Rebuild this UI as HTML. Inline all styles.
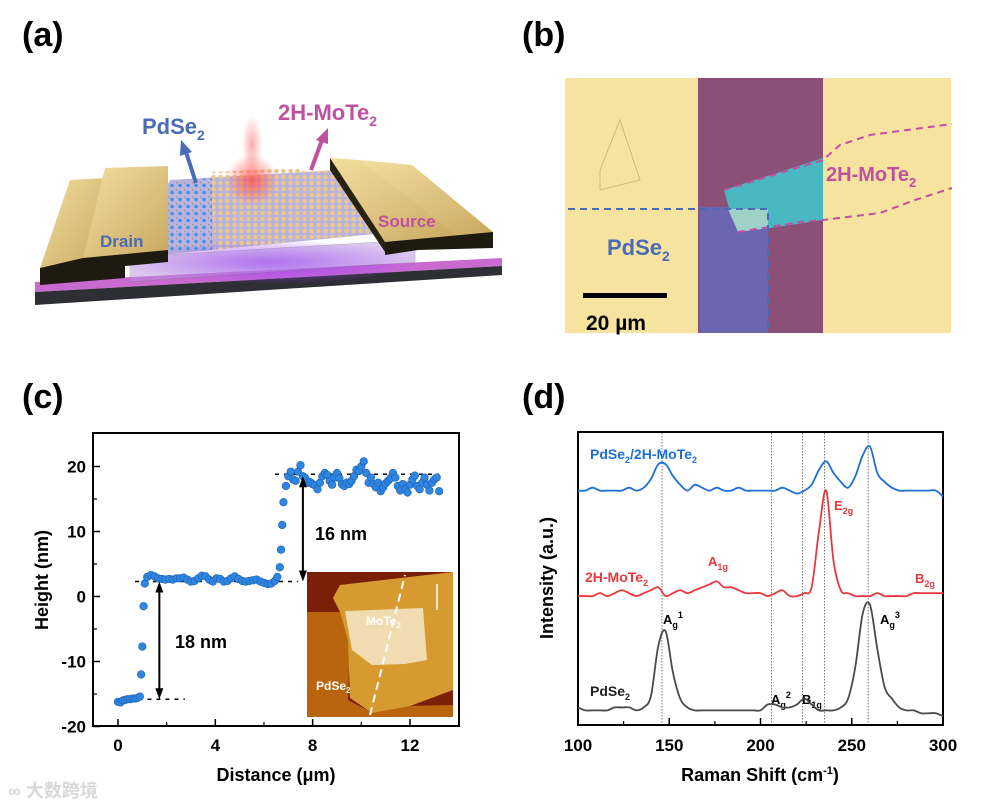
<!DOCTYPE html>
<html><head><meta charset="utf-8"><style>
body{margin:0;background:#fff;width:989px;height:805px;overflow:hidden;font-family:"Liberation Sans","Noto Sans CJK SC",sans-serif}
svg{position:absolute;left:0;top:0}
text{font-family:"Liberation Sans","Noto Sans CJK SC",sans-serif;font-weight:bold}
</style></head><body>
<svg id="fig" width="989" height="805" viewBox="0 0 989 805">
<defs>
<radialGradient id="redglow" cx="0.5" cy="0.5" r="0.5"><stop offset="0" stop-color="#ff5050" stop-opacity="0.8"/><stop offset="1" stop-color="#ff5050" stop-opacity="0"/></radialGradient>
<radialGradient id="purpglow" cx="0.5" cy="0.5" r="0.5"><stop offset="0" stop-color="#a040ff" stop-opacity="0.9"/><stop offset="1" stop-color="#a040ff" stop-opacity="0"/></radialGradient>
<linearGradient id="gold" x1="0" y1="0" x2="1" y2="1"><stop offset="0" stop-color="#f3dfa0"/><stop offset="1" stop-color="#c9a860"/></linearGradient>
<pattern id="atoms" width="7" height="6" patternUnits="userSpaceOnUse"><circle cx="3.5" cy="3" r="2.3" fill="#e9c98e"/></pattern>
<pattern id="atomsB" width="8" height="7" patternUnits="userSpaceOnUse"><circle cx="4" cy="3.5" r="1.8" fill="#4a90e0"/><circle cx="0" cy="0" r="1.6" fill="#999"/></pattern>
</defs>

<text x="22" y="46" font-size="34">(a)</text>
<text x="522" y="46" font-size="34">(b)</text>
<text x="22" y="408" font-size="34">(c)</text>
<text x="522" y="408" font-size="34">(d)</text>

<g>
<polygon points="35,282 502,258 502,266 35,292" fill="#c86ad0"/>
<polygon points="35,292 502,266 502,275 35,305" fill="#2e2e35"/>
<ellipse cx="270" cy="262" rx="150" ry="22" fill="url(#purpglow)"/>
<polygon points="170,180 340,170 395,232 130,258" fill="#8a80c8" opacity="0.6"/>
<polygon points="170,182 212,178 212,250 160,252" fill="url(#atomsB)"/>
<polygon points="210,172 300,168 380,232 215,250" fill="url(#atoms)"/>
<polygon points="300,172 335,170 385,232 330,238" fill="url(#atoms)"/>
<ellipse cx="252" cy="180" rx="26" ry="26" fill="url(#redglow)"/>
<rect x="242" y="115" width="20" height="60" fill="url(#redglow)" opacity="0.6"/>
<polygon points="130,257 415,240 415,262 130,282" fill="#b890e0" opacity="0.5" stroke="#777" stroke-width="0.6"/>
<polygon points="70,180 105,178 105,258 40,268" fill="url(#gold)"/>
<polygon points="105,168 168,166 168,250 83,258" fill="url(#gold)"/>
<polygon points="40,268 83,258 168,250 168,262 125,266 125,278 40,285" fill="#1e1a10"/>
<polygon points="360,160 412,165 493,232 455,238" fill="url(#gold)"/>
<polygon points="330,158 360,160 460,238 385,242" fill="url(#gold)"/>
<polygon points="330,158 385,242 385,252 330,170" fill="#2a2210"/>
<polygon points="385,242 493,232 493,248 418,250 385,255" fill="#1e1a10"/>
<text x="100" y="247" font-size="17" fill="#4a6bb5">Drain</text>
<text x="378" y="227" font-size="17" fill="#c050a0">Source</text>
<line x1="196" y1="183" x2="186" y2="152" stroke="#4a6bb5" stroke-width="4"/>
<polygon points="181,140 192,152 180,156" fill="#4a6bb5"/>
<line x1="311" y1="170" x2="322" y2="140" stroke="#c050a0" stroke-width="4"/>
<polygon points="328,128 328,144 316,140" fill="#c050a0"/>
<text x="142" y="134" font-size="22" fill="#4a6bb5">PdSe<tspan font-size="14" dy="6">2</tspan></text>
<text x="278" y="120" font-size="22" fill="#c050a0">2H-MoTe<tspan font-size="14" dy="6">2</tspan></text>
</g>

<g>
<rect x="565" y="78" width="386" height="255" fill="#f6e3a0"/>
<rect x="698" y="78" width="125" height="255" fill="#8a5078"/>
<rect x="700" y="207" width="68" height="126" fill="#6c66b0"/>
<polygon points="724,190 823,158 823,220 770,228 738,232 730,212" fill="#4ab8c2"/>
<polygon points="728,209 768,209 768,228 738,232" fill="#9ed2c8"/>
<polygon points="600,170 620,120 640,180 600,190" fill="none" stroke="#c8b880" stroke-width="1"/>
<polyline points="724,190 823,160 840,145 870,135 952,124" fill="none" stroke="#c050a0" stroke-width="2" stroke-dasharray="7,5"/>
<polyline points="738,232 800,222 823,220 880,213 915,200 952,188" fill="none" stroke="#c050a0" stroke-width="2" stroke-dasharray="7,5"/>
<polyline points="568,209 768,209 768,333" fill="none" stroke="#4a6bb5" stroke-width="2" stroke-dasharray="7,5"/>
<text x="826" y="181" font-size="20" fill="#c050a0">2H-MoTe<tspan font-size="13" dy="6">2</tspan></text>
<text x="607" y="255" font-size="22" fill="#4a6bb5">PdSe<tspan font-size="14" dy="6">2</tspan></text>
<rect x="583" y="293" width="84" height="5" fill="#000"/>
<text x="586" y="330" font-size="21">20 µm</text>
</g>

<g id="pc">
<rect x="93" y="433" width="366" height="293" fill="none" stroke="#000" stroke-width="2"/>
<g id="inset">
<rect x="307" y="572" width="146" height="145" fill="#7a1f08"/>
<polygon points="307,612 340,612 350,640 348,700 371,712 405,706 453,705 453,717 307,717" fill="#b8650e"/>
<polygon points="333,598 340,585 453,572 453,690 410,706 372,713 350,698 348,640 340,612" fill="#d69a30"/>
<polygon points="345,611 423,608 427,660 405,664 372,665 352,650" fill="#f0dcb0"/>
<line x1="370" y1="715" x2="405" y2="575" stroke="#fff" stroke-width="2" stroke-dasharray="8,5"/>
<line x1="437" y1="584" x2="437" y2="610" stroke="#fff" stroke-width="1.5"/>
<text x="366" y="625" font-size="12" fill="#fff" font-family="Liberation Serif">MoTe<tspan font-size="8" dy="3">2</tspan></text>
<text x="316" y="690" font-size="12" fill="#fff" font-family="Liberation Serif">PdSe<tspan font-size="8" dy="3">2</tspan></text>
</g>
<text transform="translate(48,580) rotate(-90)" text-anchor="middle" font-size="18">Height (nm)</text>
<text x="276" y="781" text-anchor="middle" font-size="18">Distance (μm)</text>
<text x="175" y="648" font-size="18">18 nm</text>
<text x="315" y="540" font-size="18">16 nm</text>
</g>

<g id="pd">
<rect x="578" y="432" width="365" height="293" fill="none" stroke="#000" stroke-width="2"/>
<text transform="translate(553,578) rotate(-90)" text-anchor="middle" font-size="18">Intensity (a.u.)</text>
<text x="760" y="781" text-anchor="middle" font-size="18">Raman Shift (cm<tspan font-size="11" dy="-7">-1</tspan><tspan dy="7">)</tspan></text>
<text x="590" y="459" font-size="14" fill="#1e6fd9">PdSe<tspan font-size="9" dy="4">2</tspan><tspan dy="-4">/2H-MoTe</tspan><tspan font-size="9" dy="4">2</tspan></text>
<text x="585" y="582" font-size="14" fill="#e8383d">2H-MoTe<tspan font-size="9" dy="4">2</tspan></text>
<text x="708" y="566" font-size="13" fill="#e8383d">A<tspan font-size="9" dy="4">1g</tspan></text>
<text x="834" y="510" font-size="13" fill="#e8383d">E<tspan font-size="9" dy="4">2g</tspan></text>
<text x="915" y="583" font-size="13" fill="#e8383d">B<tspan font-size="9" dy="4">2g</tspan></text>
<text x="590" y="696" font-size="14" fill="#222">PdSe<tspan font-size="9" dy="4">2</tspan></text>
<text x="663" y="624" font-size="13">A<tspan font-size="9" dy="4">g</tspan><tspan font-size="9" dy="-10">1</tspan></text>
<text x="771" y="704" font-size="13">A<tspan font-size="9" dy="4">g</tspan><tspan font-size="9" dy="-10">2</tspan></text>
<text x="802" y="704" font-size="13">B<tspan font-size="9" dy="4">1g</tspan></text>
<text x="880" y="624" font-size="13">A<tspan font-size="9" dy="4">g</tspan><tspan font-size="9" dy="-10">3</tspan></text>
</g>
<text x="8" y="797" font-size="18" fill="#d8d8d8">∞ 大数跨境</text>
</svg>
<script>
const distance=[0,0.1,0.2,0.3,0.4,0.5,0.6,0.7,0.8,0.9,0.95,1.0,1.05,1.1,1.2,1.35,1.5,1.65,1.8,1.95,2.1,2.25,2.4,2.55,2.7,2.85,3.0,3.15,3.3,3.45,3.6,3.75,3.9,4.05,4.2,4.35,4.5,4.65,4.8,4.95,5.1,5.25,5.4,5.55,5.7,5.85,6.0,6.15,6.3,6.45,6.55,6.65,6.7,6.75,6.8,6.9,7.0,7.1,7.2,7.3,7.4,7.5,7.6,7.7,7.8,7.9,8.0,8.1,8.2,8.3,8.4,8.5,8.6,8.7,8.8,8.9,9.0,9.1,9.2,9.3,9.4,9.5,9.6,9.7,9.8,9.9,10.0,10.1,10.2,10.3,10.4,10.5,10.6,10.7,10.8,10.9,11.0,11.1,11.2,11.3,11.4,11.5,11.6,11.7,11.8,11.9,12.0,12.1,12.2,12.3,12.4,12.5,12.6,12.7,12.8,12.9,13.0,13.1,13.2];
const height=[-16.2,-16.3,-16,-15.9,-15.8,-15.8,-15.7,-15.7,-15.6,-15.4,-12,-7.7,-1.5,2.0,3.0,3.3,3.1,2.8,2.7,2.6,2.7,2.6,2.8,2.8,2.9,2.6,2.3,2.4,2.8,3.2,3.1,2.6,2.3,2.8,2.7,2.3,2.4,2.8,3.1,2.7,2.4,2.3,2.4,2.5,2.6,2.3,2.1,1.9,2.0,2.4,3.0,4.5,7.2,11,14.5,17,18.5,19.2,18,17.8,19.2,20.2,18.5,18.2,17.5,17.6,17.3,17.1,16.5,17.5,18.5,19,18.7,17.8,17.2,18.3,19.0,18.2,17.3,17.0,17.5,17.3,17.8,18.5,19.5,19.3,20.0,20.8,19.0,17.5,18.3,17.3,16.8,17.5,16.2,16.8,17.4,17.8,18.2,19.0,18.3,17.0,16.3,17.3,16.5,16.0,17.2,18.0,18.6,17.0,16.5,17.5,18.3,17.2,16.3,17.5,18.0,18.3,16.2];
const cXTicks=[0,4,8,12];
const cXMinor=[2,6,10];
const cYTicks=[-20,-10,0,10,20];
const cYMinor=[-15,-5,5,15];
const levels=[-15.8,2.3,18.8];
const levelSpans=[[0.1,2.75],[0.7,7.4],[6.45,13.2]];
const arrowSpans=[[1.7,-15.8,2.3],[7.6,2.3,18.5]];

const ramanShift=[100,104,108,112,116,120,124,128,132,136,140,144,148,152,156,160,164,168,172,176,180,184,188,192,196,200,204,208,212,216,220,224,228,232,236,240,244,248,252,256,260,264,268,272,276,280,284,288,292,296,300];
const pdse2I=[6,5,5,5,5,6,6,6,5,6,10,27,32,18,9,6,5,5,5,5,5,5,5,5,5,5,7,7,6,6,7,9,7,5,5,5,6,9,20,38,41,26,13,9,6,5,5,4,4,4,3];
const mote2I=[44,44,44,45,44,45,46,45,44,45,46,47,44,45,46,45,46,47,48,49,47,47,46,45,45,45,44,45,46,44,44,45,47,66,80,56,46,45,44,44,44,45,44,44,44,44,45,45,45,45,45];
const heteroI=[80,80,81,80,80,80,80,81,80,81,84,89,89,85,82,80,82,81,80,81,80,80,81,80,80,80,80,80,81,80,79,80,82,87,90,86,83,81,85,92,95,86,83,81,80,80,80,80,80,80,78];
const dXTicks=[100,150,200,250,300];
const dXMinor=[125,175,225,275];
const modeLines=[146,206,223,235,259];

const NS='http://www.w3.org/2000/svg';
function mk(tag,attrs,parent){const e=document.createElementNS(NS,tag);for(const k in attrs)e.setAttribute(k,attrs[k]);parent.appendChild(e);return e;}
const pc=document.getElementById('pc'), pd=document.getElementById('pd');
const cx=v=>118+v*24.33, cy=v=>596.5-v*6.5;
const dx=v=>578+(v-100)*1.825, dy=v=>725-v*2.93;

cXTicks.forEach(t=>{const l=mk('line',{x1:cx(t),x2:cx(t),y1:726,y2:719,stroke:'#000','stroke-width':1.5},pc);

const tx=mk('text',{x:cx(t),y:751,'text-anchor':'middle','font-size':17},pc);tx.textContent=t;
});
cXMinor.forEach(t=>{const l=mk('line',{x1:cx(t),x2:cx(t),y1:726,y2:722,stroke:'#000','stroke-width':1.2},pc);
});
cYTicks.forEach(t=>{const l=mk('line',{x1:93,x2:100,y1:cy(t),y2:cy(t),stroke:'#000','stroke-width':1.5},pc);

const tx=mk('text',{x:86,y:cy(t)+6,'text-anchor':'end','font-size':17},pc);tx.textContent=t;
});
cYMinor.forEach(t=>{const l=mk('line',{x1:93,x2:97,y1:cy(t),y2:cy(t),stroke:'#000','stroke-width':1.2},pc);
});
levels.forEach((lv,i)=>{const l=mk('line',{x1:cx(levelSpans[i][0]),x2:cx(levelSpans[i][1]),y1:cy(lv),y2:cy(lv),stroke:'#000','stroke-width':1.5,'stroke-dasharray':'4,5'},pc);
});
const inset=document.getElementById('inset');
distance.forEach((d,i)=>{const c=mk('circle',{cx:cx(d),cy:cy(height[i]),r:3.8,fill:'#2f86e0',stroke:'#1a5fb0','stroke-width':0.6},pc);
});
pc.appendChild(inset);
arrowSpans.forEach(a=>{const x=cx(a[0]),y1=cy(a[1]),y2=cy(a[2]);
const l=mk('line',{x1:x,x2:x,y1:y1-8,y2:y2+8,stroke:'#000','stroke-width':2},pc);

const p1=mk('polygon',{points:`${x},${y1} ${x-4},${y1-11} ${x+4},${y1-11}`,fill:'#000'},pc);

const p2=mk('polygon',{points:`${x},${y2} ${x-4},${y2+11} ${x+4},${y2+11}`,fill:'#000'},pc);
});

dXTicks.forEach(t=>{const l=mk('line',{x1:dx(t),x2:dx(t),y1:725,y2:718,stroke:'#000','stroke-width':1.5},pd);

const tx=mk('text',{x:dx(t),y:751,'text-anchor':'middle','font-size':17},pd);tx.textContent=t;
});
dXMinor.forEach(t=>{const l=mk('line',{x1:dx(t),x2:dx(t),y1:725,y2:721,stroke:'#000','stroke-width':1.2},pd);
});
modeLines.forEach(m=>{const l=mk('line',{x1:dx(m),x2:dx(m),y1:433,y2:724,stroke:'#555','stroke-width':0.8,'stroke-dasharray':'1.5,1.5'},pd);
});
function smooth(xs,ys){let p=`M${dx(xs[0])},${dy(ys[0])}`;
for(let i=0;i<xs.length-1;i++){const x0=dx(xs[Math.max(i-1,0)]),y0=dy(ys[Math.max(i-1,0)]),x1=dx(xs[i]),y1=dy(ys[i]),x2=dx(xs[i+1]),y2=dy(ys[i+1]),j=Math.min(i+2,xs.length-1),x3=dx(xs[j]),y3=dy(ys[j]);
p+=` C${x1+(x2-x0)/6},${y1+(y2-y0)/6} ${x2-(x3-x1)/6},${y2-(y3-y1)/6} ${x2},${y2}`;}return p;}
[[pdse2I,'#4a4a4a','pdse2-spectrum'],[mote2I,'#e8383d','mote2-spectrum'],[heteroI,'#1e6fd9','hetero-spectrum']].forEach(s=>{
const p=mk('path',{d:smooth(ramanShift,s[0]),fill:'none',stroke:s[1],'stroke-width':1.8},pd);
});
</script>
</body></html>
